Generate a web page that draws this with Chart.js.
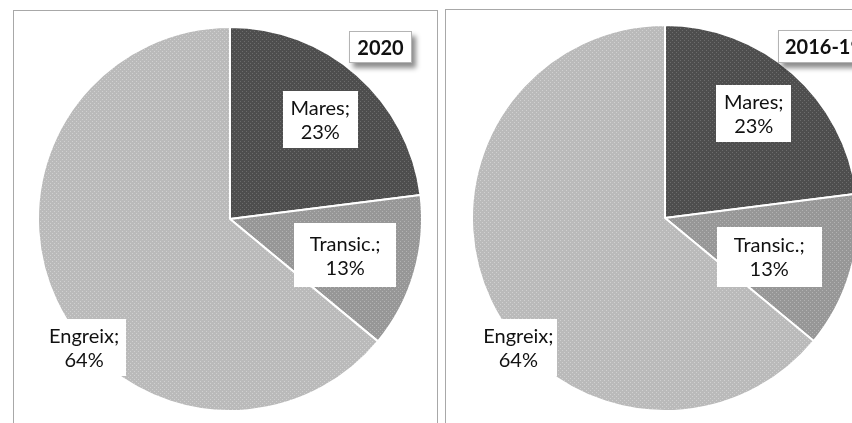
<!DOCTYPE html>
<html>
<head>
<meta charset="utf-8">
<script src="https://cdn.jsdelivr.net/npm/chart.js@4.4.0/dist/chart.umd.min.js"></script>
<style>
  html, body { margin: 0; padding: 0; background: #fff; width: 852px; height: 423px; overflow: hidden; position: relative; }
  .panel { position: absolute; border: 1px solid #a8a8a8; background: #fff; }
  #p1 { left: 13px; top: 10px; width: 423px; height: 430px; }
  #p2 { left: 445px; top: 9px; width: 440px; height: 430px; }
  .panel canvas { position: absolute; left: 0; top: 0; }
  .title { position: absolute; box-sizing: border-box; background: #fff; border: 1px solid #b4b4b4;
           font: bold 20px Lato, sans-serif; color: #111; line-height: 30px;
           box-shadow: 4px 5px 5px rgba(0,0,0,0.45); }
  #t1 { left: 349px; top: 31px; width: 63px; height: 32px; text-align: center; }
  #t2 { left: 778px; top: 30px; width: 100px; height: 33px; padding-left: 6px; }
</style>
</head>
<body>
<div class="panel" id="p1"><canvas id="c1" width="423" height="412"></canvas></div>
<div class="panel" id="p2"><canvas id="c2" width="425" height="413"></canvas></div>
<div class="title" id="t1"></div>
<div class="title" id="t2"></div>
<script>
const categories = ['Mares', 'Transic.', 'Engreix'];
const values2020 = [23, 13, 64];
const values2016 = [23, 13, 64];
const titles = ['2020', '2016-19'];

// label boxes, offsets in fractions of the radius
const layout1 = [
  { dx: 0.47, dy: -0.52, w: 75, h: 57 },
  { dx: 0.60, dy: 0.19, w: 102, h: 64 },
  { dx: -0.76, dy: 0.67, w: 84, h: 57 }
];
const layout2 = [
  { dx: 0.46, dy: -0.54, w: 75, h: 57 },
  { dx: 0.54, dy: 0.20, w: 105, h: 60 },
  { dx: -0.76, dy: 0.67, w: 78, h: 57 }
];

function makePattern(base, dot) {
  const c = document.createElement('canvas');
  c.width = c.height = 4;
  const g = c.getContext('2d');
  g.fillStyle = base; g.fillRect(0, 0, 4, 4);
  g.fillStyle = dot; g.fillRect(0, 0, 1, 1); g.fillRect(2, 2, 1, 1);
  return g.createPattern(c, 'repeat');
}

const boxLabels = {
  id: 'boxLabels',
  afterDatasetsDraw(chart, args, opts) {
    const ctx = chart.ctx;
    const meta = chart.getDatasetMeta(0);
    const vals = chart.data.datasets[0].data;
    ctx.save();
    ctx.font = '20px Lato, sans-serif';
    ctx.textAlign = 'center';
    ctx.textBaseline = 'middle';
    meta.data.forEach((arc, i) => {
      const L = opts.layout[i];
      const cx = arc.x + L.dx * arc.outerRadius;
      const cy = arc.y + L.dy * arc.outerRadius;
      ctx.fillStyle = '#fff';
      ctx.fillRect(Math.round(cx - L.w / 2), Math.round(cy - L.h / 2), L.w, L.h);
      ctx.fillStyle = '#111';
      ctx.fillText(chart.data.labels[i] + ';', cx, cy - 11);
      ctx.fillText(vals[i] + '%', cx, cy + 13);
    });
    ctx.restore();
  }
};

function pie(id, values, layout, padding) {
  const colors = [
    makePattern('#4e4e4e', '#6c6c6c'),
    makePattern('#979797', '#b2b2b2'),
    makePattern('#bababa', '#d0d0d0')
  ];
  new Chart(document.getElementById(id), {
    type: 'pie',
    data: {
      labels: categories,
      datasets: [{ data: values, backgroundColor: colors, borderColor: '#fff', borderWidth: 2 }]
    },
    options: {
      responsive: false,
      animation: false,
      layout: { padding },
      plugins: {
        legend: { display: false },
        tooltip: { enabled: false },
        boxLabels: { layout }
      }
    },
    plugins: [boxLabels]
  });
}

document.getElementById('t1').textContent = titles[0];
document.getElementById('t2').textContent = titles[1];

pie('c1', values2020, layout1, { left: 9, right: 0, top: 15, bottom: 11 });
pie('c2', values2016, layout2, { left: 25, right: 12, top: 14, bottom: 11 });
</script>
</body>
</html>
